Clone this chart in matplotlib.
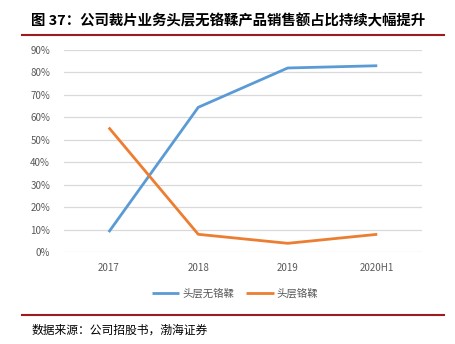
import matplotlib
matplotlib.use("Agg")
import matplotlib.pyplot as plt
from matplotlib.lines import Line2D
from matplotlib.ticker import PercentFormatter

plt.rcParams['font.family'] = ['Noto Sans CJK SC', 'DejaVu Sans']

# data
years = ['2017', '2018', '2019', '2020H1']
chrome_free = [0.09, 0.645, 0.82, 0.83]
chrome = [0.555, 0.08, 0.04, 0.08]
series_names = ['头层无铬鞣', '头层铬鞣']
title = '图 37：公司裁片业务头层无铬鞣产品销售额占比持续大幅提升'
source = '数据来源：公司招股书，渤海证券'

blue = '#5B9BD5'
orange = '#ED7D31'
grey = '#595959'
red = '#9E1B20'

W, H = 456, 344
fig = plt.figure(figsize=(W / 100, H / 100), dpi=100)
ax = fig.add_axes([64 / W, 1 - 252.3 / H, (422 - 64) / W, (252.3 - 50) / H])

x = range(len(years))
ax.plot(x, chrome_free, color=blue, lw=2.0, solid_capstyle='butt', label=series_names[0])
ax.plot(x, chrome, color=orange, lw=2.0, solid_capstyle='butt', label=series_names[1])

ax.set_xlim(-0.5, len(years) - 0.5)
ax.set_ylim(0, 0.9)
ax.set_yticks([i / 10 for i in range(10)])
ax.yaxis.set_major_formatter(PercentFormatter(1.0, decimals=0))
ax.set_xticks(list(x))
ax.set_xticklabels(years)
ax.tick_params(length=0, labelsize=7, labelcolor=grey, pad=8)
ax.tick_params(axis='y', pad=10)
ax.grid(axis='y', color='#D9D9D9', lw=0.9)
ax.set_axisbelow(True)
for s in ax.spines.values():
    s.set_visible(False)

ax.legend(loc='center', bbox_to_anchor=(235 / W, 1 - 293 / H), bbox_transform=fig.transFigure,
          ncol=2, frameon=False, fontsize=7.5, labelcolor=grey, handlelength=2.6,
          handletextpad=0.3, columnspacing=1.2)

# header / footer
fig.text(31 / W, 1 - 21 / H, title, fontsize=10.4, fontweight='bold', va='center', ha='left')
fig.add_artist(Line2D([22 / W, 444 / W], [1 - 35 / H] * 2, color=red, lw=1.5))
fig.add_artist(Line2D([22 / W, 444 / W], [1 - 315 / H] * 2, color=red, lw=1.5))
fig.text(32 / W, 1 - 330 / H, source, fontsize=8.5, style='italic', va='center', ha='left')

fig.savefig('out.png', dpi=100)
